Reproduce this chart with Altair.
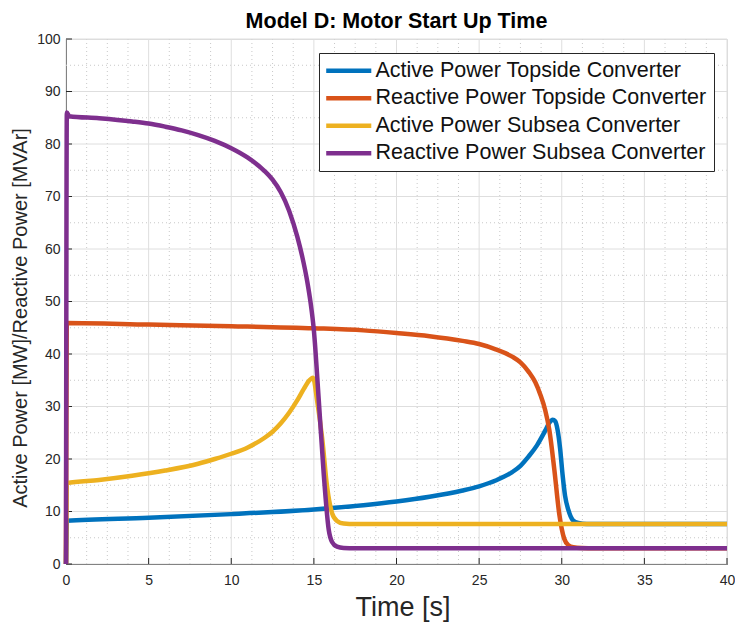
import altair as alt
import pandas as pd

series_names = [
    "Active Power Topside Converter",
    "Reactive Power Topside Converter",
    "Active Power Subsea Converter",
    "Reactive Power Subsea Converter",
]
colors = ["#0072BD", "#D95319", "#EDB120", "#7E2F8E"]

# Active power topside (blue)
t_p_top = [0, 0.05, 5, 10, 15, 18, 20, 22, 24, 25, 26, 27, 27.5, 28, 28.5, 29, 29.25, 29.45,
           29.6, 29.75, 29.9, 30.05, 30.2, 30.4, 30.66, 31, 31.5, 40]
v_p_top = [0, 8.25, 8.8, 9.5, 10.4, 11.2, 11.9, 12.8, 14.0, 14.8, 15.9, 17.5, 18.7, 20.5, 22.6, 25.4, 26.9, 27.5,
           27.2, 25.5, 22.0, 17.0, 13.0, 10.3, 8.4, 7.8, 7.6, 7.6]

# Reactive power topside (orange)
t_q_top = [0, 0.05, 5, 10, 15, 18, 20, 22, 24, 25, 26, 27, 27.5, 28, 28.4, 28.7, 29.0, 29.25,
           29.55, 29.85, 30.15, 30.4, 30.7, 31.2, 32, 40]
v_q_top = [0, 45.9, 45.6, 45.3, 44.9, 44.5, 44.0, 43.4, 42.5, 41.9, 40.9, 39.5, 38.4, 36.6, 34.6, 32.3, 29.3, 25.5,
           18.0, 9.5, 4.8, 3.6, 3.2, 3.05, 3.0, 3.0]

# Active power subsea (yellow)
t_p_sub = [0, 0.05, 2, 4, 6, 8, 9, 10, 11, 12, 12.5, 13, 13.5, 14, 14.4, 14.7, 14.95,
           15.2, 15.5, 15.8, 16.1, 16.4, 16.8, 17.5, 40]
v_p_sub = [0, 15.4, 16.0, 16.8, 17.8, 19.1, 20.0, 21.0, 22.2, 24.0, 25.2, 26.8, 28.8, 31.2, 33.4, 34.9, 35.5,
           31.0, 24.0, 14.7, 9.7, 8.2, 7.7, 7.6, 7.6]

# Reactive power subsea (purple)
t_q_sub = [0, 0.05, 0.2, 2, 4, 5, 6, 7, 8, 9, 10, 11, 12, 12.5, 13, 13.5, 14, 14.3, 14.6, 14.8, 15.0,
           15.3, 15.6, 15.9, 16.1, 16.4, 16.8, 17.5, 40]
v_q_sub = [0, 86, 85.3, 84.9, 84.3, 83.9, 83.3, 82.6, 81.7, 80.6, 79.2, 77.4, 74.9, 73.2, 70.8, 67.3, 62.3,
           58.5, 53.8, 49.8, 44.5, 31, 17, 6.5, 4.2, 3.3, 3.05, 3.0, 3.0]

x_major = [0, 5, 10, 15, 20, 25, 30, 35, 40]
x_minor = [k * 1.25 for k in range(1, 32) if k % 4 != 0]
y_major = [0, 10, 20, 30, 40, 50, 60, 70, 80, 90, 100]
y_minor = [5, 15, 25, 35, 45, 55, 65, 75, 85, 95]

W, H = 661, 525

rows = []
for name, ts, vs in zip(series_names,
                        [t_p_top, t_q_top, t_p_sub, t_q_sub],
                        [v_p_top, v_q_top, v_p_sub, v_q_sub]):
    for t, v in zip(ts, vs):
        rows.append({"series": name, "t": t, "v": v})
df = pd.DataFrame(rows)

xscale = alt.Scale(domain=[0, 40], nice=False, zero=False)
yscale = alt.Scale(domain=[0, 100], nice=False, zero=False)

xaxis = alt.Axis(values=x_major, grid=False, ticks=False, domainColor="#262626", domainWidth=1,
                 labelColor="#262626", labelFontSize=14, labelPadding=9, labelFlush=False,
                 title="Time [s]", titleFontSize=27, titleFontWeight="normal", titleColor="#262626",
                 titleBaseline="alphabetic", titleX=W / 2 + 6, titleY=51, titleAnchor="middle")
yaxis = alt.Axis(values=y_major, grid=False, ticks=False, domainColor="#262626", domainWidth=1,
                 labelColor="#262626", labelFontSize=14, labelPadding=6, labelFlush=False,
                 title="Active Power [MW]/Reactive Power [MVAr]", titleFontSize=20,
                 titleFontWeight="normal", titleColor="#262626", titleBaseline="alphabetic",
                 titleX=-40, titleY=H / 2 + 16, titleAngle=270, titleAnchor="middle")

legend = alt.Legend(title=None, orient="none", legendX=253, legendY=14, fillColor="white",
                    strokeColor="#262626", padding=7, labelFontSize=21.5, labelLimit=600,
                    labelColor="#111111", symbolType="M-4,0H4", symbolSize=127,
                    symbolStrokeWidth=4.5, symbolOffset=12, rowPadding=4.5, labelOffset=16)

X = lambda f: alt.X(f, scale=xscale, axis=xaxis)
Y = lambda f: alt.Y(f, scale=yscale, axis=yaxis)

gx_minor = alt.Chart(pd.DataFrame({"gx": x_minor})).mark_rule(
    color="#c8c8c8", strokeDash=[1, 3], strokeWidth=1).encode(
    x=X("gx:Q"), y=alt.value(0), y2=alt.value(H))
gy_minor = alt.Chart(pd.DataFrame({"gy": y_minor})).mark_rule(
    color="#c8c8c8", strokeDash=[1, 3], strokeWidth=1).encode(
    y=Y("gy:Q"), x=alt.value(0), x2=alt.value(W))
gx_major = alt.Chart(pd.DataFrame({"gx": x_major})).mark_rule(
    color="#dedede", strokeWidth=1).encode(
    x=X("gx:Q"), y=alt.value(0), y2=alt.value(H))
gy_major = alt.Chart(pd.DataFrame({"gy": y_major})).mark_rule(
    color="#dedede", strokeWidth=1).encode(
    y=Y("gy:Q"), x=alt.value(0), x2=alt.value(W))
tx = alt.Chart(pd.DataFrame({"gx": x_major})).mark_rule(
    color="#262626", strokeWidth=1).encode(
    x=X("gx:Q"), y=alt.value(H), y2=alt.value(H - 6))
ty = alt.Chart(pd.DataFrame({"gy": y_major})).mark_rule(
    color="#262626", strokeWidth=1).encode(
    y=Y("gy:Q"), x=alt.value(0), x2=alt.value(6))

line_layers = []
for name in series_names:
    line_layers.append(
        alt.Chart(df).transform_filter(alt.datum.series == name).mark_line(
            strokeWidth=4.5, interpolate="monotone").encode(
            x=X("t:Q"),
            y=Y("v:Q"),
            color=alt.Color("series:N", scale=alt.Scale(domain=series_names, range=colors),
                            legend=legend),
        )
    )

chart = alt.layer(gx_minor, gy_minor, gx_major, gy_major, tx, ty, *line_layers).properties(
    width=W, height=H,
    title=alt.TitleParams("Model D: Motor Start Up Time", fontSize=21.5, fontWeight="bold",
                          color="#000000", anchor="middle", frame="group", offset=0, dy=17,
                          baseline="alphabetic"),
    autosize=alt.AutoSizeParams(type="none"),
    padding={"left": 58, "top": 31, "right": 8, "bottom": 60},
    background="white",
).configure_view(stroke=None).configure(font="Liberation Sans")

chart.save("out.html", embed_options={"renderer": "svg", "actions": False})
